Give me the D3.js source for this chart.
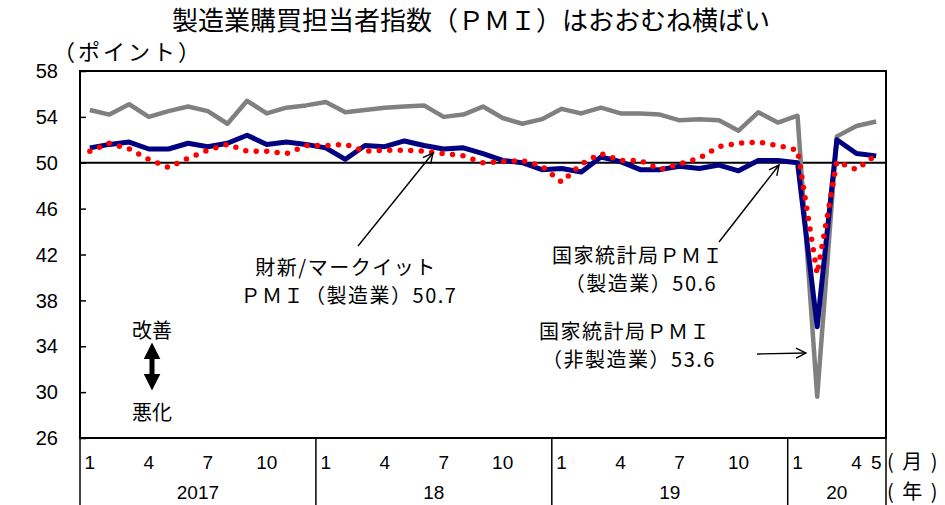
<!DOCTYPE html>
<html>
<head>
<meta charset="utf-8">
<script src="https://cdn.jsdelivr.net/npm/d3@7/dist/d3.min.js"></script>
<style>
body { margin: 0; background: #fff; }
svg { display: block; }
</style>
</head>
<body>
<div id="chart"></div>
<script>
// months Jan 2017 - May 2020
var months = [
    "2017-1","2017-2","2017-3","2017-4","2017-5","2017-6","2017-7","2017-8","2017-9","2017-10","2017-11","2017-12",
    "2018-1","2018-2","2018-3","2018-4","2018-5","2018-6","2018-7","2018-8","2018-9","2018-10","2018-11","2018-12",
    "2019-1","2019-2","2019-3","2019-4","2019-5","2019-6","2019-7","2019-8","2019-9","2019-10","2019-11","2019-12",
    "2020-1","2020-2","2020-3","2020-4","2020-5"
];
var nbsNonMfg = [
    54.6, 54.2, 55.1, 54.0, 54.5, 54.9, 54.5, 53.4, 55.4, 54.3, 54.8, 55.0,
    55.3, 54.4, 54.6, 54.8, 54.9, 55.0, 54.0, 54.2, 54.9, 53.9, 53.4, 53.8,
    54.7, 54.3, 54.8, 54.3, 54.3, 54.2, 53.7, 53.8, 53.7, 52.8, 54.4, 53.5,
    54.1, 29.6, 52.3, 53.2, 53.6
];
var nbsMfg = [
    51.3, 51.6, 51.8, 51.2, 51.2, 51.7, 51.4, 51.7, 52.4, 51.6, 51.8, 51.6,
    51.3, 50.3, 51.5, 51.4, 51.9, 51.5, 51.2, 51.3, 50.8, 50.2, 50.0, 49.4,
    49.5, 49.2, 50.5, 50.1, 49.4, 49.4, 49.7, 49.5, 49.8, 49.3, 50.2, 50.2,
    50.0, 35.7, 52.0, 50.8, 50.6
];
var caixinMfg = [
    51.0, 51.7, 51.2, 50.3, 49.6, 50.4, 51.1, 51.6, 51.0, 51.0, 50.8, 51.5,
    51.5, 51.6, 51.0, 51.1, 51.1, 51.0, 50.8, 50.6, 50.0, 50.1, 50.2, 49.7,
    48.3, 49.9, 50.8, 50.2, 50.2, 49.4, 49.9, 50.4, 51.4, 51.7, 51.8, 51.5,
    51.1, 40.3, 50.1, 49.4, 50.7
];
var monthTicks = {
    "2017-1": "1", "2017-4": "4", "2017-7": "7", "2017-10": "10",
    "2018-1": "1", "2018-4": "4", "2018-7": "7", "2018-10": "10",
    "2019-1": "1", "2019-4": "4", "2019-7": "7", "2019-10": "10",
    "2020-1": "1", "2020-4": "4", "2020-5": "5"
};
var years = ["2017", "18", "19", "20"];
var yearStarts = ["2017-1", "2018-1", "2019-1", "2020-1"];
var yTicks = [26, 30, 34, 38, 42, 46, 50, 54, 58];

(function () {
    var jp = "'Noto Sans CJK JP', sans-serif";
    var num = "'Liberation Sans', Arial, sans-serif";

    var width = 945, height = 505;
    var mLeft = 80, mRight = 886, mTop = 71, mBottom = 438;

    var svg = d3.select("#chart").append("svg")
        .attr("width", width)
        .attr("height", height);

    var defs = svg.append("defs");
    defs.append("marker")
        .attr("id", "open")
        .attr("viewBox", "0 0 12 12")
        .attr("refX", 11).attr("refY", 6)
        .attr("markerWidth", 12).attr("markerHeight", 12)
        .attr("markerUnits", "userSpaceOnUse")
        .attr("orient", "auto")
        .append("path")
        .attr("d", "M1,1 L11,6 L1,11")
        .attr("fill", "none")
        .attr("stroke", "#000")
        .attr("stroke-width", 1.4);
    defs.append("marker")
        .attr("id", "solid")
        .attr("viewBox", "0 0 10 10")
        .attr("refX", 2).attr("refY", 5)
        .attr("markerWidth", 17).attr("markerHeight", 17)
        .attr("markerUnits", "userSpaceOnUse")
        .attr("orient", "auto-start-reverse")
        .append("path")
        .attr("d", "M0,0 L10,5 L0,10 Z")
        .attr("fill", "#000");

    var x = d3.scaleBand()
        .domain(months)
        .range([mLeft, mRight]);
    var y = d3.scaleLinear()
        .domain([26, 58])
        .range([mBottom, mTop]);

    function px(d) { return x(d) + x.bandwidth() / 2; }

    // title
    svg.append("text")
        .attr("x", 471).attr("y", 30)
        .attr("text-anchor", "middle")
        .style("font-family", jp).style("font-size", "26px")
        .text("製造業購買担当者指数（ＰＭＩ）はおおむね横ばい");

    svg.append("text")
        .attr("x", 53).attr("y", 60)
        .style("font-family", jp).style("font-size", "22px")
        .style("letter-spacing", "3px")
        .text("（ポイント）");

    // y axis ticks (inward)
    var yAxis = svg.append("g")
        .attr("transform", "translate(" + mLeft + ",0)")
        .call(d3.axisRight(y).tickValues(yTicks).tickSize(6).tickFormat(""));
    yAxis.select(".domain").remove();
    yAxis.selectAll("line").attr("stroke", "#000").attr("stroke-width", 1.5);

    svg.selectAll(".ylab")
        .data(yTicks)
        .enter().append("text")
        .attr("class", "ylab")
        .attr("x", 58)
        .attr("y", function (d) { return y(d); })
        .attr("dy", "0.36em")
        .attr("text-anchor", "end")
        .style("font-family", num).style("font-size", "20px")
        .text(function (d) { return d; });

    // 50 line
    svg.append("line")
        .attr("x1", mLeft).attr("x2", mRight)
        .attr("y1", y(50)).attr("y2", y(50))
        .attr("stroke", "#000").attr("stroke-width", 2);

    // series
    var line = d3.line()
        .x(function (d, i) { return px(months[i]); })
        .y(function (d) { return y(d); });

    svg.append("path")
        .datum(nbsNonMfg)
        .attr("d", line)
        .attr("fill", "none")
        .attr("stroke", "#808080")
        .attr("stroke-width", 4.5)
        .attr("stroke-linejoin", "round");

    svg.append("path")
        .datum(nbsMfg)
        .attr("d", line)
        .attr("fill", "none")
        .attr("stroke", "#000080")
        .attr("stroke-width", 5)
        .attr("stroke-linejoin", "round");

    svg.append("path")
        .datum(caixinMfg)
        .attr("d", line)
        .attr("fill", "none")
        .attr("stroke", "#ff0000")
        .attr("stroke-width", 5.5)
        .attr("stroke-linecap", "round")
        .attr("stroke-dasharray", "0,10.5");

    // frame
    svg.append("rect")
        .attr("x", mLeft).attr("y", mTop)
        .attr("width", mRight - mLeft).attr("height", mBottom - mTop)
        .attr("fill", "none")
        .attr("stroke", "#000").attr("stroke-width", 2);

    // x axis: month / year table
    svg.selectAll(".yearline")
        .data(yearStarts.concat(["end"]))
        .enter().append("line")
        .attr("class", "yearline")
        .attr("x1", function (d) { return d == "end" ? mRight : x(d); })
        .attr("x2", function (d) { return d == "end" ? mRight : x(d); })
        .attr("y1", mBottom).attr("y2", height)
        .attr("stroke", "#000").attr("stroke-width", 1.5);

    svg.selectAll(".mlab")
        .data(Object.keys(monthTicks))
        .enter().append("text")
        .attr("class", "mlab")
        .attr("x", function (d) { return px(d); })
        .attr("y", 469)
        .attr("text-anchor", "middle")
        .style("font-family", num).style("font-size", "19px")
        .text(function (d) { return monthTicks[d]; });

    svg.selectAll(".ylabx")
        .data(years)
        .enter().append("text")
        .attr("class", "ylabx")
        .attr("x", function (d, i) {
            var x0 = x(yearStarts[i]);
            var x1 = i < years.length - 1 ? x(yearStarts[i + 1]) : mRight;
            return (x0 + x1) / 2;
        })
        .attr("y", 499)
        .attr("text-anchor", "middle")
        .style("font-family", num).style("font-size", "19px")
        .text(function (d) { return d; });

    svg.append("text")
        .attr("x", 887).attr("y", 469)
        .style("font-family", jp).style("font-size", "20px")
        .style("letter-spacing", "2px")
        .text("( 月 )");
    svg.append("text")
        .attr("x", 887).attr("y", 499)
        .style("font-family", jp).style("font-size", "20px")
        .style("letter-spacing", "2px")
        .text("( 年 )");

    // annotations
    function label(lines, cx, ys) {
        lines.forEach(function (t, i) {
            svg.append("text")
                .attr("x", cx[i]).attr("y", ys[i])
                .attr("text-anchor", "middle")
                .style("font-family", jp).style("font-size", "20px")
                .style("letter-spacing", "1.5px")
                .text(t);
        });
    }
    label(["財新/マークイット", "ＰＭＩ（製造業）50.7"], [346, 349], [275, 303]);
    label(["国家統計局ＰＭＩ", "（製造業）50.6"], [638, 641], [263, 291]);
    label(["国家統計局ＰＭＩ", "（非製造業）53.6"], [625, 629], [339, 367]);

    function arrow(x1, y1, x2, y2) {
        svg.append("line")
            .attr("x1", x1).attr("y1", y1)
            .attr("x2", x2).attr("y2", y2)
            .attr("stroke", "#000").attr("stroke-width", 1.4)
            .attr("marker-end", "url(#open)");
    }
    arrow(358, 246, 433, 153);
    arrow(719, 242, 779, 165);
    arrow(757, 354, 806, 353);

    // improve / worsen
    svg.append("text")
        .attr("x", 152).attr("y", 338)
        .attr("text-anchor", "middle")
        .style("font-family", jp).style("font-size", "20px")
        .text("改善");
    svg.append("text")
        .attr("x", 152).attr("y", 420)
        .attr("text-anchor", "middle")
        .style("font-family", jp).style("font-size", "20px")
        .text("悪化");
    svg.append("line")
        .attr("x1", 152).attr("y1", 356)
        .attr("x2", 152).attr("y2", 377)
        .attr("stroke", "#000").attr("stroke-width", 5)
        .attr("marker-start", "url(#solid)")
        .attr("marker-end", "url(#solid)");
})();
</script>
</body>
</html>
